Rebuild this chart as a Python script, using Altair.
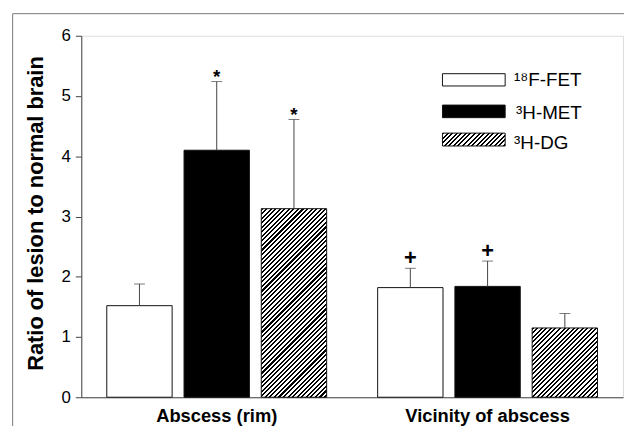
import altair as alt
import pandas as pd

# ---------------- data ----------------
groups = ["Abscess (rim)", "Vicinity of abscess"]
series = ["¹⁸F-FET", "³H-MET", "³H-DG"]

fet_mean = [1.52, 1.82]
met_mean = [4.10, 1.84]
dg_mean = [3.13, 1.15]

fet_sd = [0.36, 0.32]
met_sd = [1.14, 0.42]
dg_sd = [1.48, 0.24]

fet_sig = ["", "+"]
met_sig = ["*", "+"]
dg_sig = ["*", ""]

y_ticks = [0, 1, 2, 3, 4, 5, 6]

rows = []
for s, means, sds, sigs in zip(series, [fet_mean, met_mean, dg_mean],
                               [fet_sd, met_sd, dg_sd], [fet_sig, met_sig, dg_sig]):
    for g, m, sd, sg in zip(groups, means, sds, sigs):
        rows.append(dict(group=g, series=s, mean=m, sd=sd, sig=sg))
df = pd.DataFrame(rows)
leg_df = pd.DataFrame({"series": series})

# ---------------- layout ----------------
W, H = 547, 365
YMAX = 6
PI, PO = 0.154, 0.33
step_x = W / len(groups)
bw = step_x / (len(series) - PI + 2 * PO) * (1 - PI)
FONT = "Liberation Sans"


def hatch(w, h, period=4.6, frac=0.45):
    L = w + h
    m = L / (w * w + h * h)
    stops = []
    pos = 0.0
    while pos < L:
        a = pos / L
        b = min((pos + frac * period) / L, 1.0)
        c = min((pos + period) / L, 1.0)
        stops += [
            {"offset": round(a, 5), "color": "black"},
            {"offset": round(b, 5), "color": "black"},
            {"offset": round(b, 5), "color": "white"},
            {"offset": round(c, 5), "color": "white"},
        ]
        pos += period
    return {"gradient": "linear", "x1": 0, "y1": 0,
            "x2": round(m * w, 5), "y2": round(m * h, 5), "stops": stops}


x_enc = alt.X(
    "group:N",
    sort=groups,
    scale=alt.Scale(domain=groups, paddingInner=0, paddingOuter=0),
    axis=alt.Axis(title=None, labelAngle=0, labelFont=FONT, labelFontSize=18.5,
                  labelFontWeight="bold", labelColor="black", ticks=False,
                  tickSize=0, labelPadding=24, labelBaseline="alphabetic",
                  domainColor="#444", grid=False),
)
xo_enc = alt.XOffset("series:N", sort=series,
                     scale=alt.Scale(domain=series, paddingInner=PI, paddingOuter=PO))
y_axis = alt.Axis(values=y_ticks, labelFont=FONT, labelFontSize=17, labelColor="black",
                  tickSize=6, labelPadding=5, tickColor="#444", domainColor="#444",
                  grid=False, title="Ratio of lesion to normal brain", titleFont=FONT,
                  titleFontSize=22, titleFontWeight="bold", titleColor="black",
                  titleX=-38.7, titleY=179, titleBaseline="alphabetic",
                  titleAngle=270, titleAlign="center")
y_scale = alt.Scale(domain=[0, YMAX], nice=False, zero=True)

base = alt.Chart(df).transform_calculate(hi="datum.mean + datum.sd")

solid = base.transform_filter(
    alt.FieldOneOfPredicate(field="series", oneOf=series[:2])
).mark_bar(stroke="#111", strokeWidth=1).encode(
    x=x_enc, xOffset=xo_enc,
    y=alt.Y("mean:Q", scale=y_scale, axis=y_axis),
    fill=alt.Fill("series:N", scale=alt.Scale(domain=series[:2], range=["white", "black"]),
                  legend=None),
)

layers = [solid]
for g, m in zip(groups, dg_mean):
    hpx = m / YMAX * H
    layers.append(
        base.transform_filter(
            (alt.datum.series == series[2]) & (alt.datum.group == g)
        ).mark_bar(fill=hatch(bw, hpx), stroke="#111", strokeWidth=1).encode(
            x=x_enc, xOffset=xo_enc, y=alt.Y("mean:Q", scale=y_scale, axis=y_axis)
        )
    )

err = base.mark_rule(color="#444", strokeWidth=1).encode(
    x=x_enc, xOffset=xo_enc,
    y=alt.Y("mean:Q", scale=y_scale, axis=y_axis), y2="hi:Q",
)
cap = base.mark_tick(orient="horizontal", size=11, thickness=1, color="#444").encode(
    x=x_enc, xOffset=xo_enc, y=alt.Y("hi:Q", scale=y_scale, axis=y_axis),
)
star = base.transform_filter(alt.datum.sig == "*").mark_text(
    font=FONT, fontSize=19, fontWeight="bold", baseline="alphabetic", dy=1.5, color="black"
).encode(x=x_enc, xOffset=xo_enc, y=alt.Y("hi:Q", scale=y_scale, axis=y_axis), text="sig:N")
plus = base.transform_filter(alt.datum.sig == "+").mark_text(
    font=FONT, fontSize=22, fontWeight="bold", baseline="alphabetic", dy=-3, color="black"
).encode(x=x_enc, xOffset=xo_enc, y=alt.Y("hi:Q", scale=y_scale, axis=y_axis), text="sig:N")
layers += [err, cap, star, plus]

# ---------------- legend ----------------
leg_x0, leg_x1 = 364.7, 428
leg_y = [(38.3, 50.7), (70.0, 82.7), (98.3, 111.3)]
leg_tx = [437, 439, 437]
leg_ty = [50.5, 84.3, 114]
leg_fill = ["white", "black", hatch(leg_x1 - leg_x0, leg_y[2][1] - leg_y[2][0])]
for i, s in enumerate(series):
    ld = alt.Chart(leg_df).transform_filter(alt.datum.series == s)
    layers.append(
        ld.mark_rect(fill=leg_fill[i], stroke="#111", strokeWidth=1).encode(
            x=alt.value(leg_x0), x2=alt.value(leg_x1),
            y=alt.value(leg_y[i][0]), y2=alt.value(leg_y[i][1]),
        )
    )
    layers.append(
        ld.mark_text(font=FONT, fontSize=19, align="left", baseline="alphabetic",
                     color="black").encode(
            x=alt.value(leg_tx[i]), y=alt.value(leg_ty[i]), text="series:N"
        )
    )

# outer figure frame
frame_l = alt.Chart(leg_df).transform_filter(alt.datum.series == series[0]).mark_rule(
    color="#777", strokeWidth=1).encode(
    x=alt.value(-69.3), y=alt.value(-22.3), y2=alt.value(420))
frame_t = alt.Chart(leg_df).transform_filter(alt.datum.series == series[0]).mark_rule(
    color="#777", strokeWidth=1).encode(
    x=alt.value(-69.3), x2=alt.value(560), y=alt.value(-22.3))
layers += [frame_l, frame_t]

chart = alt.layer(*layers).properties(
    width=W, height=H,
    autosize=alt.AutoSizeParams(type="none"),
    padding={"left": 74, "top": 26, "right": 1, "bottom": 27},
).configure_view(stroke="#555", strokeWidth=1).configure(background="white")

chart.save("out.html", embed_options={"renderer": "svg", "actions": False})
